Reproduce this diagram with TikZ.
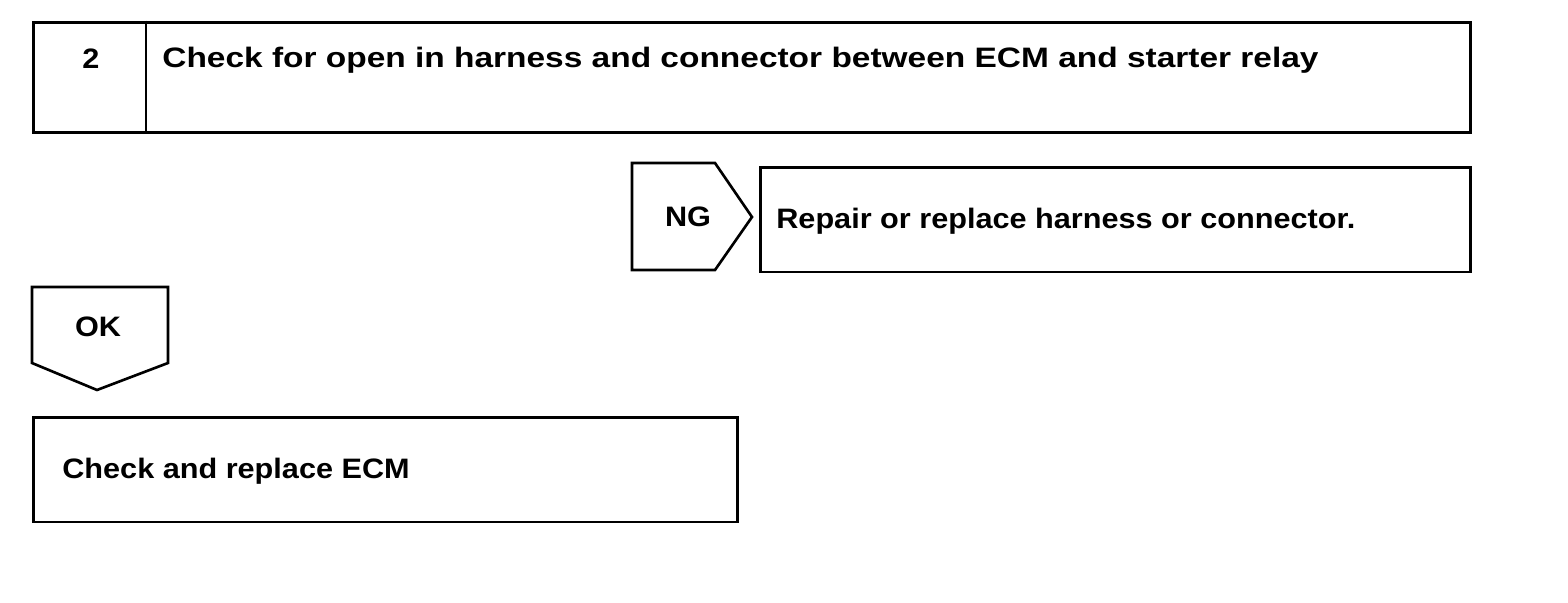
\documentclass[tikz,border=0pt]{standalone}
\usepackage{fontspec}
\setmainfont{Liberation Sans}[FakeStretch=1.09]
\newfontfamily\widefont{Liberation Sans}[FakeStretch=1.19]
\usetikzlibrary{positioning}
\tikzset{
  stepbox/.style={
    rectangle, draw=black, line width=1.7pt,
    minimum width=#1, inner sep=0pt
  },
  tagshape/.style={draw=black, line width=1.5pt, line join=miter},
  steptext/.style={font=\fontsize{16}{19}\selectfont\bfseries, inner sep=0pt, anchor=base west},
  tagtext/.style={font=\fontsize{16}{19}\selectfont\bfseries, inner sep=0pt, anchor=base},
}

\begin{document}
\begin{tikzpicture}[x=0.02cm, y=-0.02cm]

  \useasboundingbox (0,0) rectangle (1568,602);

  % --- Paso 2: caja superior ---
  \node (check) [stepbox=28.76cm, minimum height=2.22cm] at (752,77.5) {};
  \draw[line width=1.7pt] (check.north -| 146,0) -- (check.south -| 146,0);
  \node (num) [tagtext] at (91,68) {2};
  \node (checktext) [steptext, font=\widefont\fontsize{16}{19}\selectfont\bfseries] at (162,67)
        {Check for open in harness and connector between ECM and starter relay};

  % --- Rama NG ---
  \draw[tagshape] (632,163) -- (715,163) -- (752,217) -- (715,270) -- (632,270) -- cycle;
  \node (ng) [tagtext] at (688,226) {NG};
  \node (repair) [stepbox=14.22cm, minimum height=2.10cm] at (1115.5,219.5) {};
  \node (repairtext) [steptext] at (776,228) {Repair or replace harness or connector.};

  % --- Rama OK ---
  \draw[tagshape] (32,287) -- (168,287) -- (168,363) -- (97,390) -- (32,363) -- cycle;
  \node (ok) [tagtext] at (98,336) {OK};
  \node (ecm) [stepbox=14.10cm, minimum height=2.10cm] at (385.5,469.5) {};
  \node (ecmtext) [steptext] at (62,478) {Check and replace ECM};

\end{tikzpicture}
\end{document}
